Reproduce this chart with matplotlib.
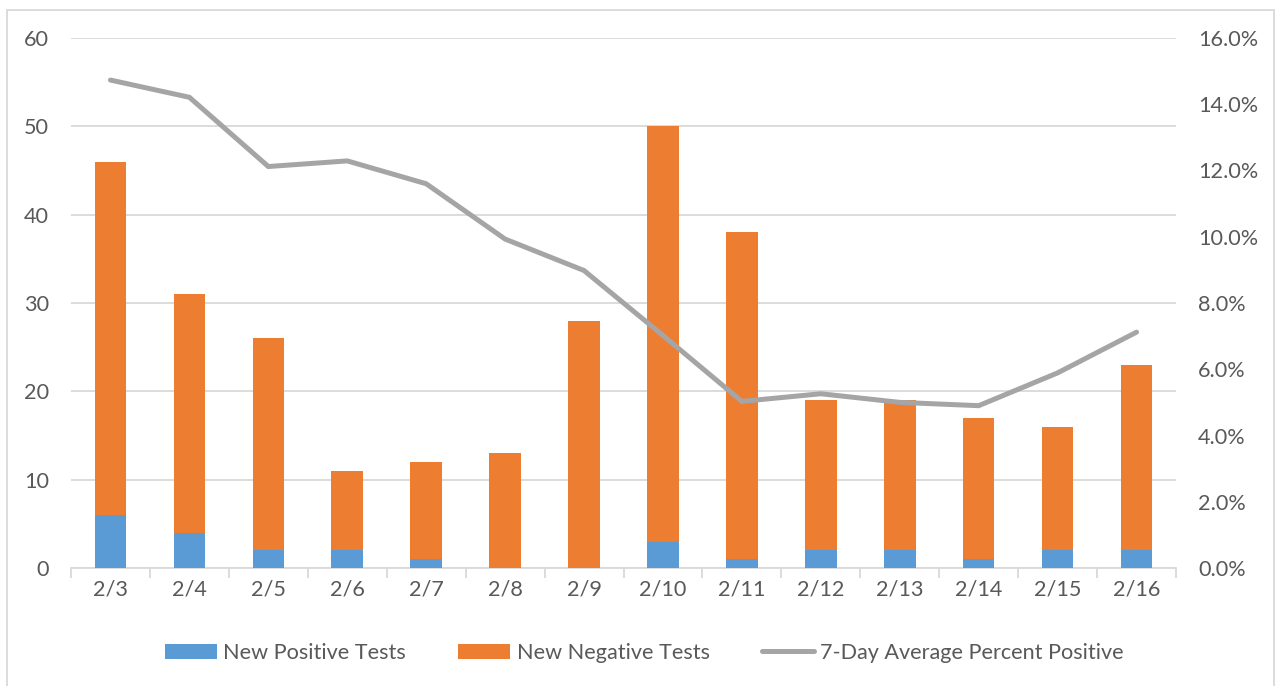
import numpy as np
import matplotlib
matplotlib.use("Agg")
import matplotlib.pyplot as plt
from matplotlib.patches import Rectangle
from matplotlib.ticker import PercentFormatter, MultipleLocator

#####----- Data
dates = ["2/3", "2/4", "2/5", "2/6", "2/7", "2/8", "2/9",
         "2/10", "2/11", "2/12", "2/13", "2/14", "2/15", "2/16"]
new_positive = [6, 4, 2, 2, 1, 0, 0, 3, 1, 2, 2, 1, 2, 2]
new_negative = [40, 27, 24, 9, 11, 13, 28, 47, 37, 17, 17, 16, 14, 21]
avg_pct_positive = [14.73, 14.21, 12.12, 12.29, 11.60, 9.93, 8.98,
                    7.02, 5.03, 5.26, 5.00, 4.90, 5.89, 7.12]

#####----- Style
plt.rcParams['font.family'] = ['Lato', 'DejaVu Sans']
text_col = "#595959"
grid_col = "#D9D9D9"
blue = "#5B9BD5"
orange = "#ED7D31"
gray = "#A5A5A5"
fs = 15.6

fig = plt.figure(figsize=(12.76, 6.86), dpi=100)
ax = fig.add_axes([71 / 1276, 1 - 568 / 686, (1176 - 71) / 1276, (568 - 38) / 686])

# outer chart border
fig.patches.append(Rectangle((7 / 1276, -0.1), (1274 - 7) / 1276, 1.1 - 10 / 686,
                             transform=fig.transFigure, fill=False,
                             edgecolor=grid_col, linewidth=1.3))

x = np.arange(len(dates))
pos = np.array(new_positive)
neg = np.array(new_negative)

b1 = ax.bar(x, pos, width=0.4, color=blue, label="New Positive Tests", zorder=3)
b2 = ax.bar(x, neg, width=0.4, bottom=pos, color=orange, label="New Negative Tests", zorder=3)

ax.set_xlim(-0.5, len(dates) - 0.5)
ax.set_ylim(0, 60)
ax.yaxis.set_major_locator(MultipleLocator(10))
ax.grid(axis="y", color=grid_col, linewidth=1.3, zorder=0)
ax.set_axisbelow(True)

for s in ["top", "left", "right"]:
    ax.spines[s].set_visible(False)
ax.spines["bottom"].set_color(grid_col)
ax.spines["bottom"].set_linewidth(1.3)

ax.set_xticks(x)
ax.set_xticklabels(dates)
ax.set_xticks(np.arange(-0.5, len(dates), 1.0), minor=True)
ax.tick_params(axis="x", which="major", length=0, pad=8, labelsize=fs, labelcolor=text_col)
ax.tick_params(axis="x", which="minor", length=7, color=grid_col, width=1.3)
ax.tick_params(axis="y", length=0, pad=16, labelsize=fs, labelcolor=text_col)

# secondary axis for the 7-day average line
ax2 = ax.twinx()
line, = ax2.plot(x, avg_pct_positive, color=gray, linewidth=3.6,
                 solid_capstyle="round", solid_joinstyle="miter",
                 label="7-Day Average Percent Positive", zorder=4)
ax2.set_ylim(0, 16)
ax2.yaxis.set_major_locator(MultipleLocator(2))
ax2.yaxis.set_major_formatter(PercentFormatter(decimals=1))
ax2.tick_params(axis="y", length=0, pad=16, labelsize=fs, labelcolor=text_col)
for s in ax2.spines.values():
    s.set_visible(False)

fig.legend(handles=[b1, b2, line], loc="center", bbox_to_anchor=(0.505, 1 - 653 / 686),
           ncol=3, frameon=False, fontsize=fs, labelcolor=text_col,
           handlelength=2.4, handleheight=0.7, handletextpad=0.3, columnspacing=2.4)

fig.savefig("out.png", dpi=100)
